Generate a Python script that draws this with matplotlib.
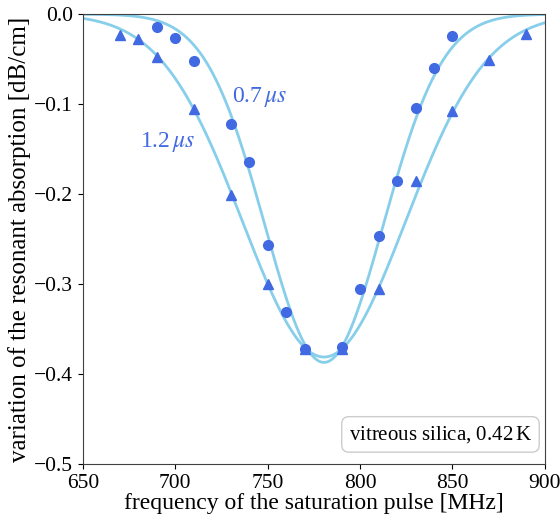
import numpy as np
import matplotlib
matplotlib.use("Agg")
import matplotlib.pyplot as plt

plt.rcParams['font.family'] = ['Liberation Serif', 'STIXGeneral', 'DejaVu Serif']
plt.rcParams['mathtext.fontset'] = 'stix'

# measured points, 0.7 us pulse (circles)
f_short = [690, 700, 710, 730, 740, 750, 760, 770, 790, 800, 810, 820, 830, 840, 850]
a_short = [-0.014, -0.026, -0.052, -0.122, -0.164, -0.256, -0.331, -0.372, -0.370,
           -0.305, -0.247, -0.185, -0.104, -0.060, -0.024]

# measured points, 1.2 us pulse (triangles)
f_long = [670, 680, 690, 710, 730, 750, 770, 790, 810, 830, 850, 870, 890]
a_long = [-0.023, -0.028, -0.048, -0.105, -0.201, -0.300, -0.372, -0.372,
          -0.305, -0.185, -0.108, -0.051, -0.022]

# fitted Gaussian parameters (amplitude, centre, width)
fit_short = (-0.387, 780.5, 32.0)
fit_long = (-0.381, 780.5, 44.0)

xticks = [650, 700, 750, 800, 850, 900]
yticks = [0.0, -0.1, -0.2, -0.3, -0.4, -0.5]

fig = plt.figure(figsize=(5.6, 5.25), dpi=100)
ax = fig.add_axes([0.148, 0.116, 0.825, 0.857])

xf = np.linspace(650, 900, 500)
for A, c, s in (fit_short, fit_long):
    ax.plot(xf, A * np.exp(-(xf - c) ** 2 / (2 * s ** 2)), color='#87CEEB', lw=2.0, zorder=2)

ax.plot(f_short, a_short, 'o', color='royalblue', ms=7, zorder=3)
ax.plot(f_long, a_long, '^', color='royalblue', ms=7, zorder=3)

ax.text(730.5, -0.092, r'0.7$\,\mu s$', color='royalblue', fontsize=17, ha='left', va='center')
ax.text(681, -0.142, r'1.2$\,\mu s$', color='royalblue', fontsize=17, ha='left', va='center')

ax.text(0.972, 0.066, r'vitreous silica, 0.42$\,$K', transform=ax.transAxes, fontsize=15,
        ha='right', va='center',
        bbox=dict(boxstyle='round,pad=0.35', fc='white', ec='0.8'))

ax.set_xlim(650, 900)
ax.set_ylim(-0.5, 0.0)
ax.set_xticks(xticks)
ax.set_yticks(yticks)
ax.set_yticklabels(['0.0'] + ['\u2212%.1f' % abs(v) for v in yticks[1:]])
ax.tick_params(labelsize=15.5)
for sp in ax.spines.values():
    sp.set_color('0.25')
ax.set_xlabel('frequency of the saturation pulse [MHz]', fontsize=17, labelpad=0)
ax.set_ylabel('variation of the resonant absorption [dB/cm]', fontsize=18, labelpad=2)

fig.savefig('out.png', dpi=100)
